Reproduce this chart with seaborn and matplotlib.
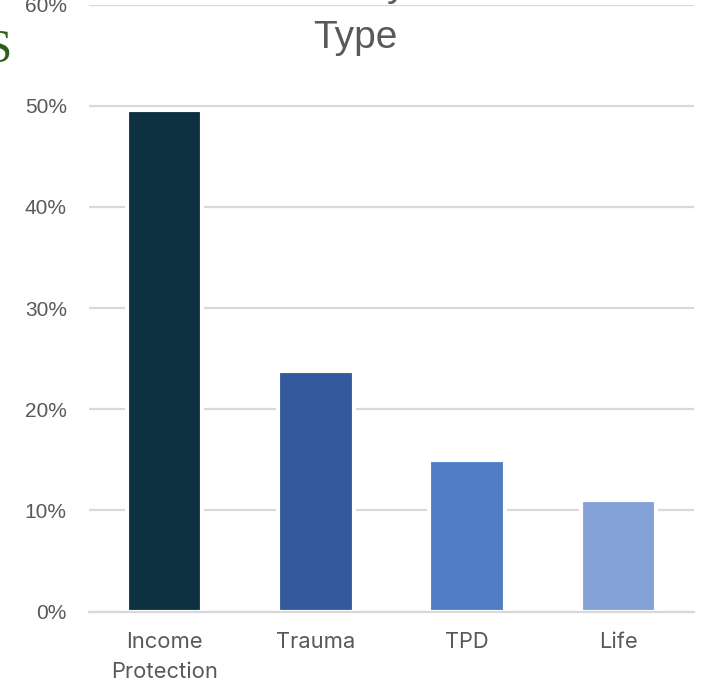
import matplotlib
matplotlib.use('Agg')
import matplotlib.pyplot as plt
from matplotlib.ticker import PercentFormatter, FixedLocator
import seaborn as sns
import pandas as pd

# chart data
categories = ['Income\nProtection', 'Trauma', 'TPD', 'Life']
shares = [0.496, 0.238, 0.150, 0.110]
bar_colors = ['#0E3142', '#335A9C', '#517DC7', '#84A2D7']

df = pd.DataFrame({'type': categories, 'share': shares})

sns.set_style('white')
plt.rcParams['font.family'] = ['Liberation Sans', 'DejaVu Sans']

fig = plt.figure(figsize=(7.09, 6.91), dpi=100)
ax = fig.add_axes([89 / 709, 79.4 / 691, 605 / 709, 607.1 / 691])

sns.barplot(data=df, x='type', y='share', hue='type', palette=bar_colors,
            legend=False, width=0.5, edgecolor='white', linewidth=3,
            saturation=1, ax=ax)

grid_c = '#D9D9D9'
ax.set_ylim(0, 0.6)
ax.set_xlim(-0.5, 3.5)
ax.set_yticks([0, 0.1, 0.2, 0.3, 0.4, 0.5, 0.6])
ax.yaxis.set_major_formatter(PercentFormatter(1.0, decimals=0))
ax.yaxis.grid(True, color=grid_c, linewidth=1.6)
ax.set_axisbelow(True)

for s in ['top', 'right', 'left']:
    ax.spines[s].set_visible(False)
ax.spines['bottom'].set_color(grid_c)
ax.spines['bottom'].set_linewidth(1.6)

ax.set_xlabel('')
ax.set_ylabel('')
ax.tick_params(axis='y', length=0, pad=16, labelsize=15, labelcolor='#595959')
ax.tick_params(axis='x', which='major', length=0, pad=15, labelcolor='#595959')
for lbl in ax.get_xticklabels():
    lbl.set_fontfamily(['Inter', 'DejaVu Sans'])
    lbl.set_fontsize(15.8)
    lbl.set_linespacing(1.6)
ax.xaxis.set_minor_locator(FixedLocator([-0.5, 0.5, 1.5, 2.5, 3.5]))
ax.tick_params(axis='x', which='minor', length=6, width=1.6, color=grid_c, direction='out')

# title, partly cut off at the top of the screenshot
fig.text(356 / 709, 1 + 4 / 691, 'Policy', ha='center', va='baseline',
         fontsize=28, color='#595959')
fig.text(355 / 709, 1 - 48 / 691, 'Type', ha='center', va='baseline',
         fontsize=28, color='#595959')

# edge of a page heading that leaks into the crop
fig.text(12 / 709, 1 - 62 / 691, 'S', ha='right', va='baseline',
         fontsize=34, color='#2D5F1A', family='Liberation Serif')

fig.savefig('out.png', dpi=100)
